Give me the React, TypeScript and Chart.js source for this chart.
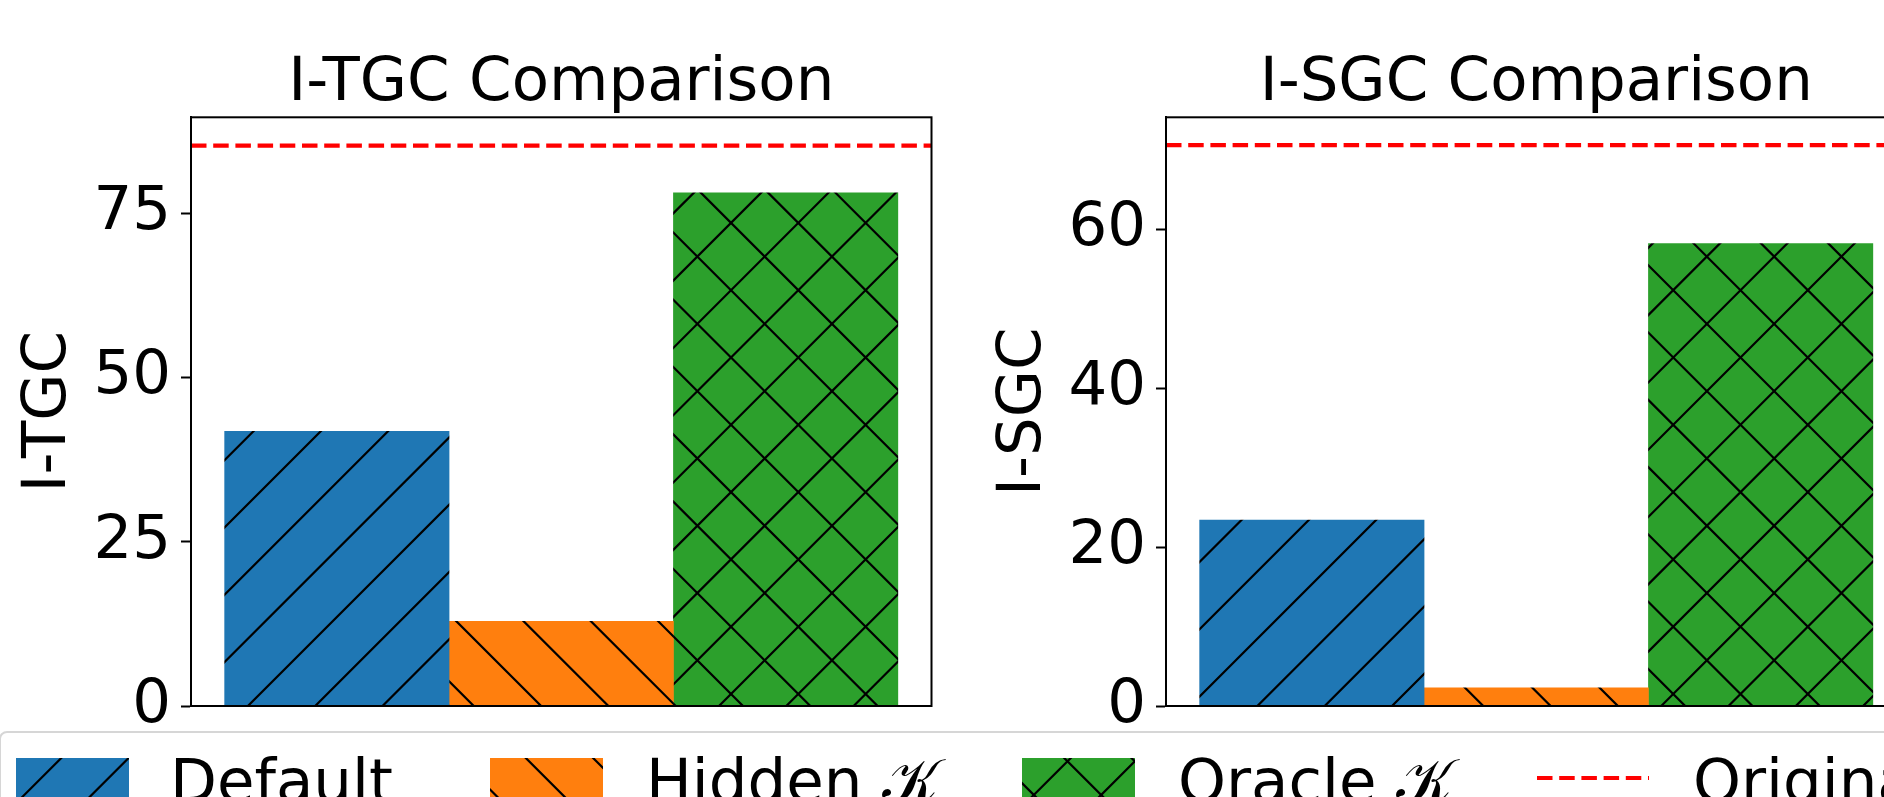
import React, { useEffect, useRef } from 'react';
import { Chart, registerables } from 'chart.js';

Chart.register(...registerables);

// ---------------- data ----------------
const methods = ['Default', 'Hidden 𝒦', 'Oracle 𝒦'];
const originalLabel = 'Original';
const barColors = ['#1f77b4', '#ff7f0e', '#2ca02c'];
const hatchKinds: string[][] = [['/'], ['\\'], ['/', '\\']];
const xPositions = [0, 1, 2];

const itgcTitle = 'I-TGC Comparison';
const itgcLabel = 'I-TGC';
const itgcValues = [41.8, 12.9, 78.1];
const itgcOriginal = 85.3;
const itgcTicks = [0, 25, 50, 75];
const itgcMax = 89.6;

const isgcTitle = 'I-SGC Comparison';
const isgcLabel = 'I-SGC';
const isgcValues = [23.4, 2.3, 58.2];
const isgcOriginal = 70.6;
const isgcTicks = [0, 20, 40, 60];
const isgcMax = 74.1;

const xMin = -0.65;
const xMax = 2.65;

// ---------------- styling ----------------
const FONT = "'DejaVu Sans', 'Liberation Sans', sans-serif";
const FS = 61;
const CANVAS_W = 960;
const CANVAS_H = 797;
const PANEL_LEFTS = [0, 975];

const HATCH_P = 67.3;
const HATCH_N = 10;
const HATCH_T = Math.round(HATCH_P * HATCH_N);
const HATCH_LW = 2.2;
const PHASE_FWD = 11.7; // x + y  (page coords) for '/'
const PHASE_BACK = 37; // x - y  (page coords) for '\'

function mod(a: number, m: number) {
  return ((a % m) + m) % m;
}

function makeHatch(color: string, kinds: string[], ox: number, oy: number): CanvasPattern {
  const c = document.createElement('canvas');
  c.width = HATCH_T;
  c.height = HATCH_T;
  const g = c.getContext('2d')!;
  g.fillStyle = color;
  g.fillRect(0, 0, HATCH_T, HATCH_T);
  g.strokeStyle = '#000';
  g.lineWidth = HATCH_LW;
  g.lineCap = 'butt';
  for (const k of kinds) {
    g.beginPath();
    if (k === '/') {
      const base = mod(PHASE_FWD - ox - oy, HATCH_P);
      for (let n = -2; n <= 2 * HATCH_N + 2; n++) {
        const s = base + n * HATCH_P;
        g.moveTo(s + 10, -10);
        g.lineTo(s - HATCH_T - 10, HATCH_T + 10);
      }
    } else {
      const base = mod(PHASE_BACK - ox + oy, HATCH_P);
      for (let n = -HATCH_N - 2; n <= HATCH_N + 2; n++) {
        const s = base + n * HATCH_P;
        g.moveTo(s - 10, -10);
        g.lineTo(s + HATCH_T + 10, HATCH_T + 10);
      }
    }
    g.stroke();
  }
  return g.createPattern(c, 'repeat')!;
}

const framePlugin = {
  id: 'axesFrame',
  afterDraw(chart: any) {
    const { ctx, chartArea } = chart;
    const { left, top, right, bottom } = chartArea;
    ctx.save();
    ctx.strokeStyle = '#000';
    ctx.lineWidth = 2;
    ctx.strokeRect(left, top, right - left, bottom - top);
    ctx.restore();
  },
};

type Panel = {
  title: string;
  ylabel: string;
  values: number[];
  original: number;
  ticks: number[];
  max: number;
  left: number;
};

const panels: Panel[] = [
  { title: itgcTitle, ylabel: itgcLabel, values: itgcValues, original: itgcOriginal, ticks: itgcTicks, max: itgcMax, left: PANEL_LEFTS[0] },
  { title: isgcTitle, ylabel: isgcLabel, values: isgcValues, original: isgcOriginal, ticks: isgcTicks, max: isgcMax, left: PANEL_LEFTS[1] },
];

function buildChart(canvas: HTMLCanvasElement, p: Panel) {
  const barSets = methods.map((m, i) => ({
    type: 'bar' as const,
    label: m,
    data: [{ x: xPositions[i], y: p.values[i] }],
    backgroundColor: makeHatch(barColors[i], hatchKinds[i], p.left, 0),
    borderWidth: 0,
    grouped: false,
    barPercentage: 1,
    categoryPercentage: 1,
    xAxisID: 'x',
    yAxisID: 'y',
  }));
  const lineSet = {
    type: 'line' as const,
    label: originalLabel,
    data: [
      { x: xMin, y: p.original },
      { x: xMax, y: p.original },
    ],
    borderColor: '#ff0000',
    borderWidth: 4.2,
    borderDash: [15.5, 6.7],
    borderCapStyle: 'butt',
    pointRadius: 0,
    fill: false,
    tension: 0,
    xAxisID: 'xl',
    yAxisID: 'y',
  };
  return new Chart(canvas, {
    type: 'bar',
    data: { datasets: [...barSets, lineSet] as any },
    options: {
      responsive: false,
      animation: false,
      devicePixelRatio: 1,
      layout: { padding: { left: 0, right: CANVAS_W - 931.5, top: 0, bottom: CANVAS_H - 706 } },
      plugins: {
        legend: { display: false },
        tooltip: { enabled: false },
        title: {
          display: true,
          text: p.title,
          fullSize: false,
          color: '#000',
          font: { family: FONT, size: FS, weight: 'normal', lineHeight: 1.0 },
          padding: { top: 53.9, bottom: 2.4 },
        },
      },
      scales: {
        x: {
          type: 'linear',
          display: false,
          offset: false,
          min: xMin,
          max: xMax,
          afterBuildTicks: (ax: any) => {
            ax.ticks = xPositions.map((v) => ({ value: v }));
          },
        },
        xl: {
          type: 'linear',
          display: false,
          offset: false,
          min: xMin,
          max: xMax,
        },
        y: {
          type: 'linear',
          min: 0,
          max: p.max,
          afterBuildTicks: (ax: any) => {
            ax.ticks = p.ticks.map((v) => ({ value: v }));
          },
          afterFit: (ax: any) => {
            ax.width = 191;
          },
          ticks: {
            color: '#000',
            font: { family: FONT, size: FS },
            padding: 10,
            callback: (v: any) => String(v),
          },
          grid: {
            display: true,
            drawOnChartArea: false,
            drawTicks: true,
            tickLength: 10,
            tickWidth: 2,
            tickColor: '#000',
          },
          border: { display: true, color: '#000', width: 2 },
          title: {
            display: true,
            text: p.ylabel,
            color: '#000',
            font: { family: FONT, size: FS, lineHeight: 1.2 },
            padding: { top: 12.3, bottom: 0 },
          },
        },
      },
    } as any,
    plugins: [framePlugin],
  });
}

type LegendItem = { label: string; kind: 'patch' | 'line'; idx: number; x: number; w: number; textX: number };
const legendItems: LegendItem[] = [
  { label: methods[0], kind: 'patch', idx: 0, x: 16, w: 113, textX: 170 },
  { label: methods[1], kind: 'patch', idx: 1, x: 490, w: 113, textX: 646 },
  { label: methods[2], kind: 'patch', idx: 2, x: 1022, w: 113, textX: 1178 },
  { label: originalLabel, kind: 'line', idx: 3, x: 1537, w: 112, textX: 1693 },
];
const HANDLE_TOP = 758;
const HANDLE_H = 43;

function LegendHandle({ item }: { item: LegendItem }) {
  const ref = useRef<HTMLCanvasElement>(null);
  useEffect(() => {
    const c = ref.current;
    if (!c) return;
    const g = c.getContext('2d')!;
    g.clearRect(0, 0, c.width, c.height);
    if (item.kind === 'patch') {
      g.fillStyle = makeHatch(barColors[item.idx], hatchKinds[item.idx], item.x, HANDLE_TOP);
      g.fillRect(0, 0, c.width, c.height);
    } else {
      g.strokeStyle = '#ff0000';
      g.lineWidth = 4.2;
      g.setLineDash([15.5, 6.7]);
      g.beginPath();
      g.moveTo(0, 20);
      g.lineTo(c.width, 20);
      g.stroke();
    }
  }, [item]);
  return (
    <canvas
      ref={ref}
      width={item.w}
      height={HANDLE_H}
      style={{ position: 'absolute', left: item.x, top: HANDLE_TOP, width: item.w, height: HANDLE_H }}
    />
  );
}

export default function App() {
  const c1 = useRef<HTMLCanvasElement>(null);
  const c2 = useRef<HTMLCanvasElement>(null);

  useEffect(() => {
    const charts: Chart[] = [];
    if (c1.current) charts.push(buildChart(c1.current, panels[0]));
    if (c2.current) charts.push(buildChart(c2.current, panels[1]));
    return () => {
      charts.forEach((ch) => ch.destroy());
    };
  }, []);

  return (
    <div
      style={{
        position: 'fixed',
        left: 0,
        top: 0,
        width: 1884,
        height: 797,
        overflow: 'hidden',
        background: '#fff',
        fontFamily: FONT,
      }}
    >
      <canvas
        ref={c1}
        width={CANVAS_W}
        height={CANVAS_H}
        style={{ position: 'absolute', left: PANEL_LEFTS[0], top: 0, width: CANVAS_W, height: CANVAS_H }}
      />
      <canvas
        ref={c2}
        width={CANVAS_W}
        height={CANVAS_H}
        style={{ position: 'absolute', left: PANEL_LEFTS[1], top: 0, width: CANVAS_W, height: CANVAS_H }}
      />
      <div
        style={{
          position: 'absolute',
          left: -1,
          top: 731,
          width: 2200,
          height: 200,
          boxSizing: 'border-box',
          border: '2px solid #d6d6d6',
          borderRadius: 8,
          background: 'rgba(255,255,255,0.8)',
        }}
      />
      {legendItems.map((it) => (
        <React.Fragment key={it.label}>
          <LegendHandle item={it} />
          <span
            style={{
              position: 'absolute',
              left: it.textX,
              top: 750,
              fontSize: FS,
              lineHeight: `${FS}px`,
              whiteSpace: 'nowrap',
              color: '#000',
              fontFamily: FONT,
            }}
          >
            {it.label}
          </span>
        </React.Fragment>
      ))}
    </div>
  );
}
